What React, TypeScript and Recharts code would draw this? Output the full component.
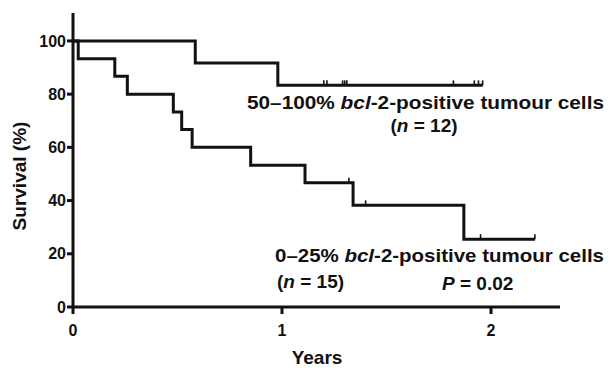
import React from "react";
import { ComposedChart, Line, Scatter, XAxis, YAxis } from "recharts";

// Kaplan-Meier steps (years, survival %)
const highTimes = [0, 0.585, 0.98, 1.96];
const highSurvival = [100, 91.7, 83.3, 83.3];
const highCensored = [1.2, 1.215, 1.29, 1.3, 1.31, 1.82, 1.92, 1.94, 1.96];

const lowTimes = [0, 0.025, 0.2, 0.26, 0.48, 0.52, 0.57, 0.85, 1.11, 1.34, 1.87, 2.21];
const lowSurvival = [100, 93.3, 86.7, 80, 73.3, 66.7, 60, 53.3, 46.7, 38.2, 25.5, 25.5];
const lowCensored = [1.32, 1.4, 1.95, 2.21];

const xTicks = [0, 1, 2];
const yTicks = [0, 20, 40, 60, 80, 100];

const W = 614;
const H = 369;
const FONT = "'Liberation Sans', Arial, sans-serif";
const INK = "#111";

// level of a step curve at time t
function levelAt(times: number[], vals: number[], t: number) {
  let v = vals[0];
  for (let i = 0; i < times.length; i++) if (times[i] <= t) v = vals[i];
  return v;
}

const highData = highTimes.map((x, i) => ({ x, y: highSurvival[i] }));
const lowData = lowTimes.map((x, i) => ({ x, y: lowSurvival[i] }));
const censorData = [
  ...highCensored.map((x) => ({ x, y: levelAt(highTimes, highSurvival, x) })),
  ...lowCensored.map((x) => ({ x, y: levelAt(lowTimes, lowSurvival, x) })),
];

const CensorMark = (props: any) => {
  const { cx, cy } = props;
  return <line x1={cx} x2={cx} y1={cy} y2={cy - 5} stroke={INK} strokeWidth={1.6} />;
};

export default function App() {
  const tickStyle = { fill: INK, fontSize: 16, fontWeight: 700, fontFamily: FONT };
  const labelStyle = { fill: INK, fontSize: 19, fontWeight: 700, fontFamily: FONT };
  return (
    <div style={{ position: "absolute", left: 0, top: 0, width: W, height: H, background: "#fff" }}>
      <ComposedChart width={W} height={H} margin={{ top: 13, right: 54, bottom: 30, left: 0 }}>
        <XAxis
          type="number"
          dataKey="x"
          domain={[0, 2.33]}
          ticks={xTicks}
          tickSize={7}
          tickMargin={11}
          tick={tickStyle}
          axisLine={{ stroke: INK, strokeWidth: 3 }}
          tickLine={{ stroke: INK, strokeWidth: 3 }}
          height={32}
          allowDataOverflow
        />
        <YAxis
          type="number"
          dataKey="y"
          domain={[0, 110.5]}
          ticks={yTicks}
          tickSize={6}
          tickMargin={1}
          tick={tickStyle}
          axisLine={{ stroke: INK, strokeWidth: 3 }}
          tickLine={{ stroke: INK, strokeWidth: 3 }}
          width={73}
          allowDataOverflow
        />
        <Line
          data={highData}
          dataKey="y"
          type="stepAfter"
          stroke={INK}
          strokeWidth={3}
          dot={false}
          isAnimationActive={false}
        />
        <Line
          data={lowData}
          dataKey="y"
          type="stepAfter"
          stroke={INK}
          strokeWidth={3}
          dot={false}
          isAnimationActive={false}
        />
        <Scatter data={censorData} dataKey="y" shape={CensorMark} isAnimationActive={false} />
      </ComposedChart>
      <svg
        width={W}
        height={H}
        style={{ position: "absolute", left: 0, top: 0, pointerEvents: "none" }}
      >
        <text {...labelStyle} x={317} y={364} textAnchor="middle">Years</text>
        <text {...labelStyle} transform="translate(26,176) rotate(-90)" textAnchor="middle">
          Survival (%)
        </text>
        <text {...labelStyle} x={247} y={109} textLength={357} lengthAdjust="spacingAndGlyphs">
          50–100% <tspan fontStyle="italic">bcl</tspan>-2-positive tumour cells
        </text>
        <text {...labelStyle} x={424} y={132} textAnchor="middle">
          (<tspan fontStyle="italic">n</tspan> = 12)
        </text>
        <text {...labelStyle} x={275} y={262} textLength={329} lengthAdjust="spacingAndGlyphs">
          0–25% <tspan fontStyle="italic">bcl</tspan>-2-positive tumour cells
        </text>
        <text {...labelStyle} x={277} y={288}>
          (<tspan fontStyle="italic">n</tspan> = 15)
        </text>
        <text {...labelStyle} x={442} y={290}>
          <tspan fontStyle="italic">P</tspan> = 0.02
        </text>
      </svg>
    </div>
  );
}
